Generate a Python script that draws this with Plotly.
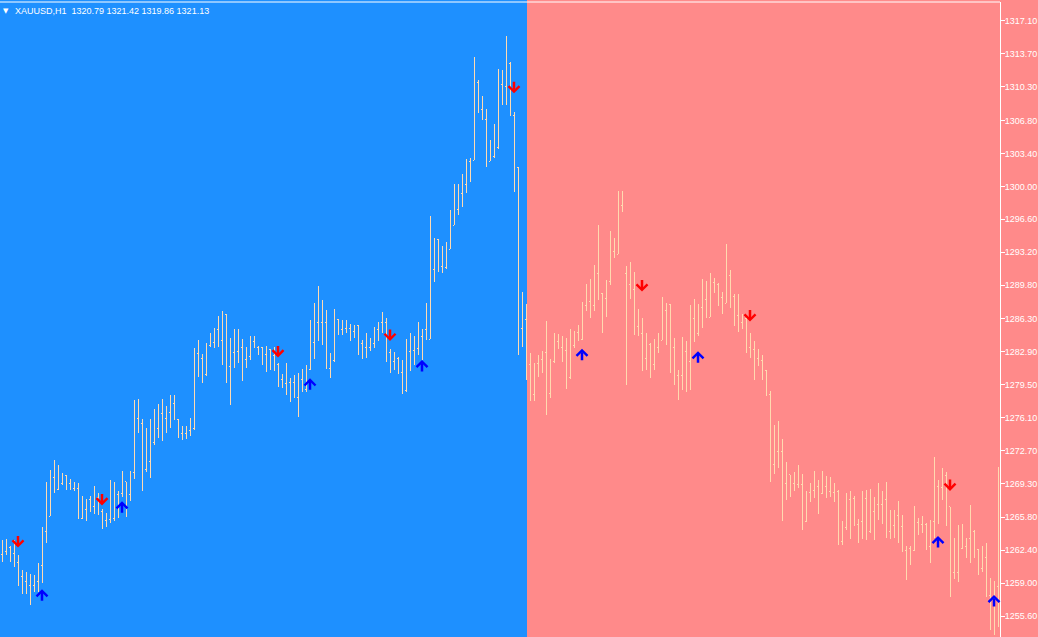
import plotly.graph_objects as go

# ---- OHLC data (XAUUSD H1) ----
opens = [
 1262.0,1262.3,1262.7,1262.1,1261.1,1259.7,1259.2,1258.8,1258.8,1259.2,
 1260.8,1264.3,1265.9,1269.9,1268.7,1269.3,1270.1,1269.3,1268.8,1268.8,
 1265.7,1266.6,1267.6,1266.9,1267.8,1266.4,1265.5,1265.6,1265.7,1268.2,
 1268.3,1269.5,1268.2,1270.4,1276.0,1275.5,1270.7,1271.6,1273.5,1275.0,
 1276.5,1276.0,1276.6,1277.6,1275.9,1274.5,1274.5,1274.8,1275.0,1282.7,
 1282.2,1280.6,1283.6,1283.9,1285.2,1284.1,1286.8,1281.4,1282.8,1282.9,
 1283.4,1282.1,1282.4,1284.0,1283.4,1283.3,1282.6,1283.1,1282.5,1281.6,
 1280.0,1279.6,1279.7,1279.7,1278.2,1280.0,1279.0,1281.1,1283.9,1285.9,
 1285.9,1285.9,1281.2,1282.0,1286.2,1285.2,1285.3,1285.3,1285.0,1285.6,
 1283.8,1283.4,1283.4,1283.8,1285.2,1285.9,1285.9,1282.8,1281.9,1282.2,
 1280.8,1278.9,1282.9,1283.0,1283.2,1284.5,1285.2,1284.2,1291.4,1294.5,
 1291.7,1291.6,1293.5,1296.0,1297.6,1299.3,1300.2,1302.6,1302.7,1310.7,
 1307.9,1306.9,1302.6,1303.1,1304.0,1310.5,1310.3,1312.7,1307.3,1302.0,
 1285.3,1286.2,1281.6,1278.5,1281.7,1282.1,1282.8,1278.6,1281.9,1284.0,
 1283.3,1283.0,1280.2,1283.6,1284.9,1284.2,1287.7,1288.1,1287.7,1291.0,
 1288.9,1288.4,1290.2,1293.3,1293.0,1298.0,1291.0,1289.9,1289.3,1285.5,
 1284.8,1282.2,1283.7,1281.6,1283.3,1284.1,1287.2,1287.8,1283.3,1280.5,
 1280.5,1282.9,1281.9,1286.4,1284.8,1287.5,1288.3,1286.5,1290.1,1289.9,
 1288.5,1287.9,1290.8,1288.6,1286.7,1285.9,1286.4,1283.3,1283.1,1282.2,
 1282.0,1281.0,1278.5,1271.3,1272.6,1272.6,1269.3,1270.2,1269.3,1269.2,
 1269.2,1265.4,1268.4,1268.6,1269.0,1268.3,1269.0,1268.5,1268.4,1268.5,
 1263.3,1264.7,1267.6,1267.7,1265.1,1265.4,1267.7,1264.3,1266.4,1267.1,
 1267.1,1267.6,1264.3,1265.0,1266.0,1264.9,1262.4,1262.6,1262.4,1265.3,
 1265.1,1265.1,1262.8,1265.4,1269.0,1268.9,1270.1,1266.9,1260.1,1260.1,
 1262.6,1262.8,1263.6,1264.3,1262.5,1260.5,1261.6,1257.7,1257.6,1258.7,
]
highs = [
 1263.5,1263.6,1262.8,1263.5,1261.9,1260.4,1260.2,1259.9,1259.8,1261.1,
 1264.8,1269.5,1270.7,1271.7,1271.2,1270.4,1270.2,1269.8,1269.5,1269.3,
 1268.0,1267.7,1268.0,1269.0,1268.3,1266.7,1266.2,1269.7,1269.4,1268.5,
 1270.6,1269.5,1270.6,1277.9,1278.0,1276.0,1275.0,1276.0,1277.0,1277.5,
 1278.0,1277.3,1278.4,1278.4,1276.0,1275.2,1275.2,1276.1,1283.3,1284.1,
 1282.7,1283.8,1284.8,1285.4,1286.6,1287.1,1286.8,1284.3,1285.3,1285.3,
 1284.2,1283.4,1284.5,1284.5,1283.5,1283.4,1283.5,1283.2,1283.4,1281.7,
 1280.6,1281.7,1280.2,1280.5,1280.7,1281.1,1281.5,1286.2,1287.9,1289.7,
 1288.3,1287.2,1282.8,1287.3,1286.3,1286.2,1286.2,1285.8,1285.7,1285.7,
 1284.1,1284.9,1284.3,1285.5,1286.0,1287.0,1286.4,1283.2,1282.9,1282.4,
 1282.1,1284.2,1284.9,1284.5,1286.0,1285.3,1288.0,1296.9,1294.7,1294.6,
 1293.8,1294.3,1297.6,1300.3,1300.3,1301.3,1302.8,1302.9,1313.4,1311.0,
 1309.3,1308.0,1304.8,1306.4,1312.1,1312.0,1315.5,1312.9,1307.7,1302.0,
 1289.1,1287.8,1282.8,1281.7,1282.6,1283.0,1286.1,1282.2,1284.8,1284.7,
 1284.5,1284.3,1285.3,1285.1,1285.7,1288.1,1289.9,1290.4,1291.9,1296.0,
 1289.0,1290.3,1295.4,1294.7,1299.5,1299.5,1291.8,1292.2,1291.2,1287.3,
 1286.4,1284.8,1283.8,1284.2,1284.8,1288.6,1287.9,1287.8,1284.3,1281.0,
 1284.4,1284.0,1287.7,1288.4,1287.8,1290.4,1290.2,1291.1,1290.5,1290.0,
 1289.1,1294.1,1291.4,1288.9,1288.9,1286.8,1286.5,1284.8,1284.0,1283.2,
 1282.6,1281.0,1278.9,1275.3,1275.8,1273.9,1271.5,1270.2,1270.5,1271.2,
 1270.3,1268.5,1269.3,1270.6,1269.7,1270.6,1270.1,1270.0,1269.3,1268.6,
 1265.4,1268.3,1268.5,1268.0,1265.6,1268.5,1268.6,1268.7,1267.9,1269.3,
 1268.5,1269.4,1266.6,1266.6,1267.5,1266.0,1262.8,1262.8,1267.0,1265.7,
 1265.9,1265.2,1265.5,1272.0,1269.7,1270.9,1270.5,1266.9,1263.7,1265.0,
 1265.1,1263.7,1267.1,1264.5,1262.5,1262.8,1263.1,1259.5,1259.2,1271.0,
]
lows = [
 1261.2,1261.9,1261.2,1260.7,1258.7,1257.9,1257.9,1256.7,1258.1,1258.1,
 1259.0,1263.1,1265.9,1268.3,1268.6,1269.1,1268.6,1268.6,1268.5,1265.6,
 1265.6,1265.4,1266.4,1266.1,1266.0,1264.6,1264.8,1265.2,1265.4,1265.7,
 1267.9,1265.8,1267.5,1269.8,1274.5,1268.5,1270.5,1269.9,1273.3,1274.0,
 1273.7,1274.5,1275.0,1275.9,1274.0,1273.8,1273.9,1274.2,1274.8,1280.3,
 1279.7,1280.4,1283.4,1283.3,1283.4,1281.5,1279.7,1277.4,1281.2,1281.7,
 1279.9,1281.2,1282.1,1283.3,1282.6,1281.5,1280.8,1281.0,1280.9,1279.3,
 1279.2,1278.4,1277.7,1278.2,1276.2,1278.8,1278.8,1281.0,1282.2,1284.0,
 1283.6,1281.2,1280.2,1281.9,1284.6,1284.6,1284.8,1284.0,1284.3,1282.6,
 1282.2,1282.3,1283.0,1283.3,1284.0,1284.8,1281.9,1280.7,1281.0,1280.6,
 1278.5,1278.8,1280.9,1281.5,1282.6,1282.1,1284.1,1284.2,1290.1,1291.2,
 1291.0,1291.5,1293.5,1296.0,1297.0,1297.9,1299.3,1300.5,1302.7,1307.6,
 1306.9,1302.0,1302.6,1302.9,1303.9,1308.4,1308.4,1307.3,1299.4,1282.6,
 1283.4,1280.0,1277.8,1277.8,1280.3,1280.7,1276.4,1278.1,1281.7,1283.2,
 1281.9,1279.1,1280.1,1283.3,1284.0,1284.1,1287.1,1286.4,1287.1,1288.3,
 1284.8,1286.5,1289.8,1292.6,1293.0,1297.4,1279.5,1288.4,1284.6,1284.5,
 1280.9,1281.0,1280.2,1281.0,1282.8,1284.1,1283.6,1280.7,1279.5,1277.9,
 1279.0,1278.8,1279.0,1283.9,1284.5,1285.4,1286.4,1286.5,1289.0,1287.6,
 1286.8,1287.9,1287.4,1285.6,1285.0,1285.3,1282.8,1282.3,1280.0,1281.4,
 1280.0,1278.3,1269.4,1270.3,1270.9,1265.4,1267.6,1267.9,1268.5,1268.8,
 1264.5,1265.3,1267.4,1267.8,1266.1,1268.2,1267.8,1267.9,1267.4,1262.9,
 1262.9,1264.5,1263.6,1264.9,1263.1,1263.6,1263.5,1264.2,1263.5,1265.5,
 1265.1,1263.7,1263.6,1263.7,1263.1,1262.2,1259.3,1260.9,1262.3,1264.0,
 1264.2,1262.4,1261.1,1263.7,1265.1,1267.6,1264.9,1257.6,1259.4,1259.1,
 1262.5,1261.6,1261.1,1261.6,1259.8,1260.1,1257.6,1254.2,1253.6,1254.5,
]
closes = [
 1262.3,1262.7,1262.1,1261.1,1259.7,1259.2,1258.8,1258.8,1259.2,1260.8,
 1264.3,1265.9,1269.9,1268.7,1269.3,1270.1,1269.3,1268.8,1268.8,1265.7,
 1266.6,1267.6,1266.9,1267.8,1266.4,1265.5,1265.6,1265.7,1268.2,1268.3,
 1269.5,1268.2,1270.4,1276.0,1275.5,1270.7,1271.6,1273.5,1275.0,1276.5,
 1276.0,1276.6,1277.6,1275.9,1274.5,1274.5,1274.8,1275.0,1282.7,1282.2,
 1280.6,1283.6,1283.9,1285.2,1284.1,1286.8,1281.4,1282.8,1282.9,1283.4,
 1282.1,1282.4,1284.0,1283.4,1283.3,1282.6,1283.1,1282.5,1281.6,1280.0,
 1279.6,1279.7,1279.7,1278.2,1280.0,1279.0,1281.1,1283.9,1285.9,1285.9,
 1285.9,1281.2,1282.0,1286.2,1285.2,1285.3,1285.3,1285.0,1285.6,1283.8,
 1283.4,1283.4,1283.8,1285.2,1285.9,1285.9,1282.8,1281.9,1282.2,1280.8,
 1278.9,1282.9,1283.0,1283.2,1284.5,1285.2,1284.2,1291.4,1294.5,1291.7,
 1291.6,1293.5,1296.0,1297.6,1299.3,1300.2,1302.6,1302.7,1310.7,1307.9,
 1306.9,1302.6,1303.1,1304.0,1310.5,1310.3,1312.7,1307.3,1302.0,1285.3,
 1286.2,1281.6,1278.5,1281.7,1282.1,1282.8,1278.6,1281.9,1284.0,1283.3,
 1283.0,1280.2,1283.6,1284.9,1284.2,1287.7,1288.1,1287.7,1291.0,1288.9,
 1288.4,1290.2,1293.3,1293.0,1298.0,1298.4,1289.9,1289.3,1285.5,1284.8,
 1282.2,1283.7,1281.6,1283.3,1284.1,1287.2,1287.8,1283.3,1280.5,1280.5,
 1282.9,1281.9,1286.4,1284.8,1287.5,1288.3,1286.5,1290.1,1289.9,1288.5,
 1287.9,1290.8,1288.6,1286.7,1285.9,1286.4,1283.3,1283.1,1282.2,1282.0,
 1281.0,1278.5,1271.3,1272.6,1272.6,1269.3,1270.2,1269.3,1269.2,1269.2,
 1265.4,1268.4,1268.6,1269.0,1268.3,1269.0,1268.5,1268.4,1268.5,1263.3,
 1264.7,1267.6,1267.7,1265.1,1265.4,1267.7,1264.3,1266.4,1267.1,1267.1,
 1267.6,1264.3,1265.0,1266.0,1264.9,1262.4,1262.6,1262.4,1265.3,1265.1,
 1265.1,1262.8,1265.4,1269.0,1268.9,1270.1,1266.9,1260.1,1260.1,1262.6,
 1262.8,1263.6,1264.3,1262.6,1260.5,1261.6,1257.7,1257.6,1258.7,1267.3,
]
bars = list(range(len(closes)))

# signal arrows (bar index, price at the arrow's centre)
sell_bars = [4, 25, 69, 97, 128, 160, 187, 237]
sell_prices = [1263.35, 1267.7, 1283.0, 1284.7, 1310.3, 1289.8, 1286.7, 1269.2]
buy_bars = [10, 30, 77, 105, 145, 174, 234, 248]
buy_prices = [1257.7, 1266.8, 1279.5, 1281.4, 1282.55, 1282.3, 1263.2, 1257.1]

price_labels = ["1317.10", "1313.70", "1310.30", "1306.80", "1303.40", "1300.00",
                "1296.60", "1293.20", "1289.80", "1286.30", "1282.90", "1279.50",
                "1276.10", "1272.70", "1269.30", "1265.80", "1262.40", "1259.00",
                "1255.60"]
header = "XAUUSD,H1  1320.79 1321.42 1319.86 1321.13"
zone_split = 131.25   # bar index where the blue zone ends

BLUE = "#1E90FF"
PINK = "#FF8A8A"
BAR = "#FFDAB0"
FONT = "Liberation Sans"
ARROW_LEN = 13  # px

fig = go.Figure()
fig.add_trace(go.Ohlc(
    x=bars, open=opens, high=highs, low=lows, close=closes,
    increasing=dict(line=dict(color=BAR, width=1)),
    decreasing=dict(line=dict(color=BAR, width=1)),
    tickwidth=0.3, hoverinfo="skip", showlegend=False,
))


def add_signal(bar, price, color, down):
    # arrow glyph centred on (bar, price); tip points down for sells, up for buys
    half = ARROW_LEN / 2
    fig.add_annotation(
        x=bar, y=price, xref="x", yref="y", text="",
        showarrow=True, arrowhead=4, arrowsize=0.85, arrowwidth=2.5,
        arrowcolor=color, standoff=0, startstandoff=0,
        ax=0, ay=-ARROW_LEN if down else ARROW_LEN,
        yshift=-half if down else half,
    )


for b, p in zip(sell_bars, sell_prices):
    add_signal(b, p, "#FF0000", True)
for b, p in zip(buy_bars, buy_prices):
    add_signal(b, p, "#0000FF", False)

fig.add_shape(type="rect", xref="x", yref="paper", x0=-0.5, x1=zone_split,
              y0=0, y1=1.01, fillcolor=BLUE, line=dict(width=0), layer="below")
fig.add_shape(type="line", xref="paper", yref="paper", x0=0, x1=1, y0=1, y1=1,
              line=dict(color="white", width=1))

fig.add_annotation(xref="paper", yref="paper", x=0.006, y=0.986, text="▼",
                   showarrow=False, xanchor="center", yanchor="middle",
                   font=dict(family="DejaVu Sans", size=7, color="white"))
fig.add_annotation(xref="paper", yref="paper", x=0.013, y=0.986, text=header,
                   showarrow=False, xanchor="left", yanchor="middle",
                   font=dict(family=FONT, size=9, color="white"))

fig.update_layout(
    width=1038, height=637,
    margin=dict(l=0, r=38, t=2, b=0),
    paper_bgcolor=PINK, plot_bgcolor=PINK,
    showlegend=False,
    xaxis=dict(range=[-0.5, 249.5], visible=False, showgrid=False,
               rangeslider=dict(visible=False)),
    yaxis=dict(side="right", range=[1253.43, 1319.06],
               tickvals=[float(s) for s in price_labels], ticktext=price_labels,
               showgrid=False, zeroline=False, showline=True, linecolor="white",
               linewidth=1, ticks="outside", ticklen=4, tickcolor="white",
               ticklabelstandoff=-2,
               tickfont=dict(family=FONT, size=9, color="white")),
)

post = """
document.body.style.margin = '0';
document.body.style.padding = '0';
var gd = document.getElementById('{plot_id}');
gd.querySelectorAll('.ohlclayer path, .trace.ohlc path').forEach(function (p) {
  p.style.shapeRendering = 'crispEdges';
});
"""

fig.write_html("out.html", post_script=post, config={"displayModeBar": False})
